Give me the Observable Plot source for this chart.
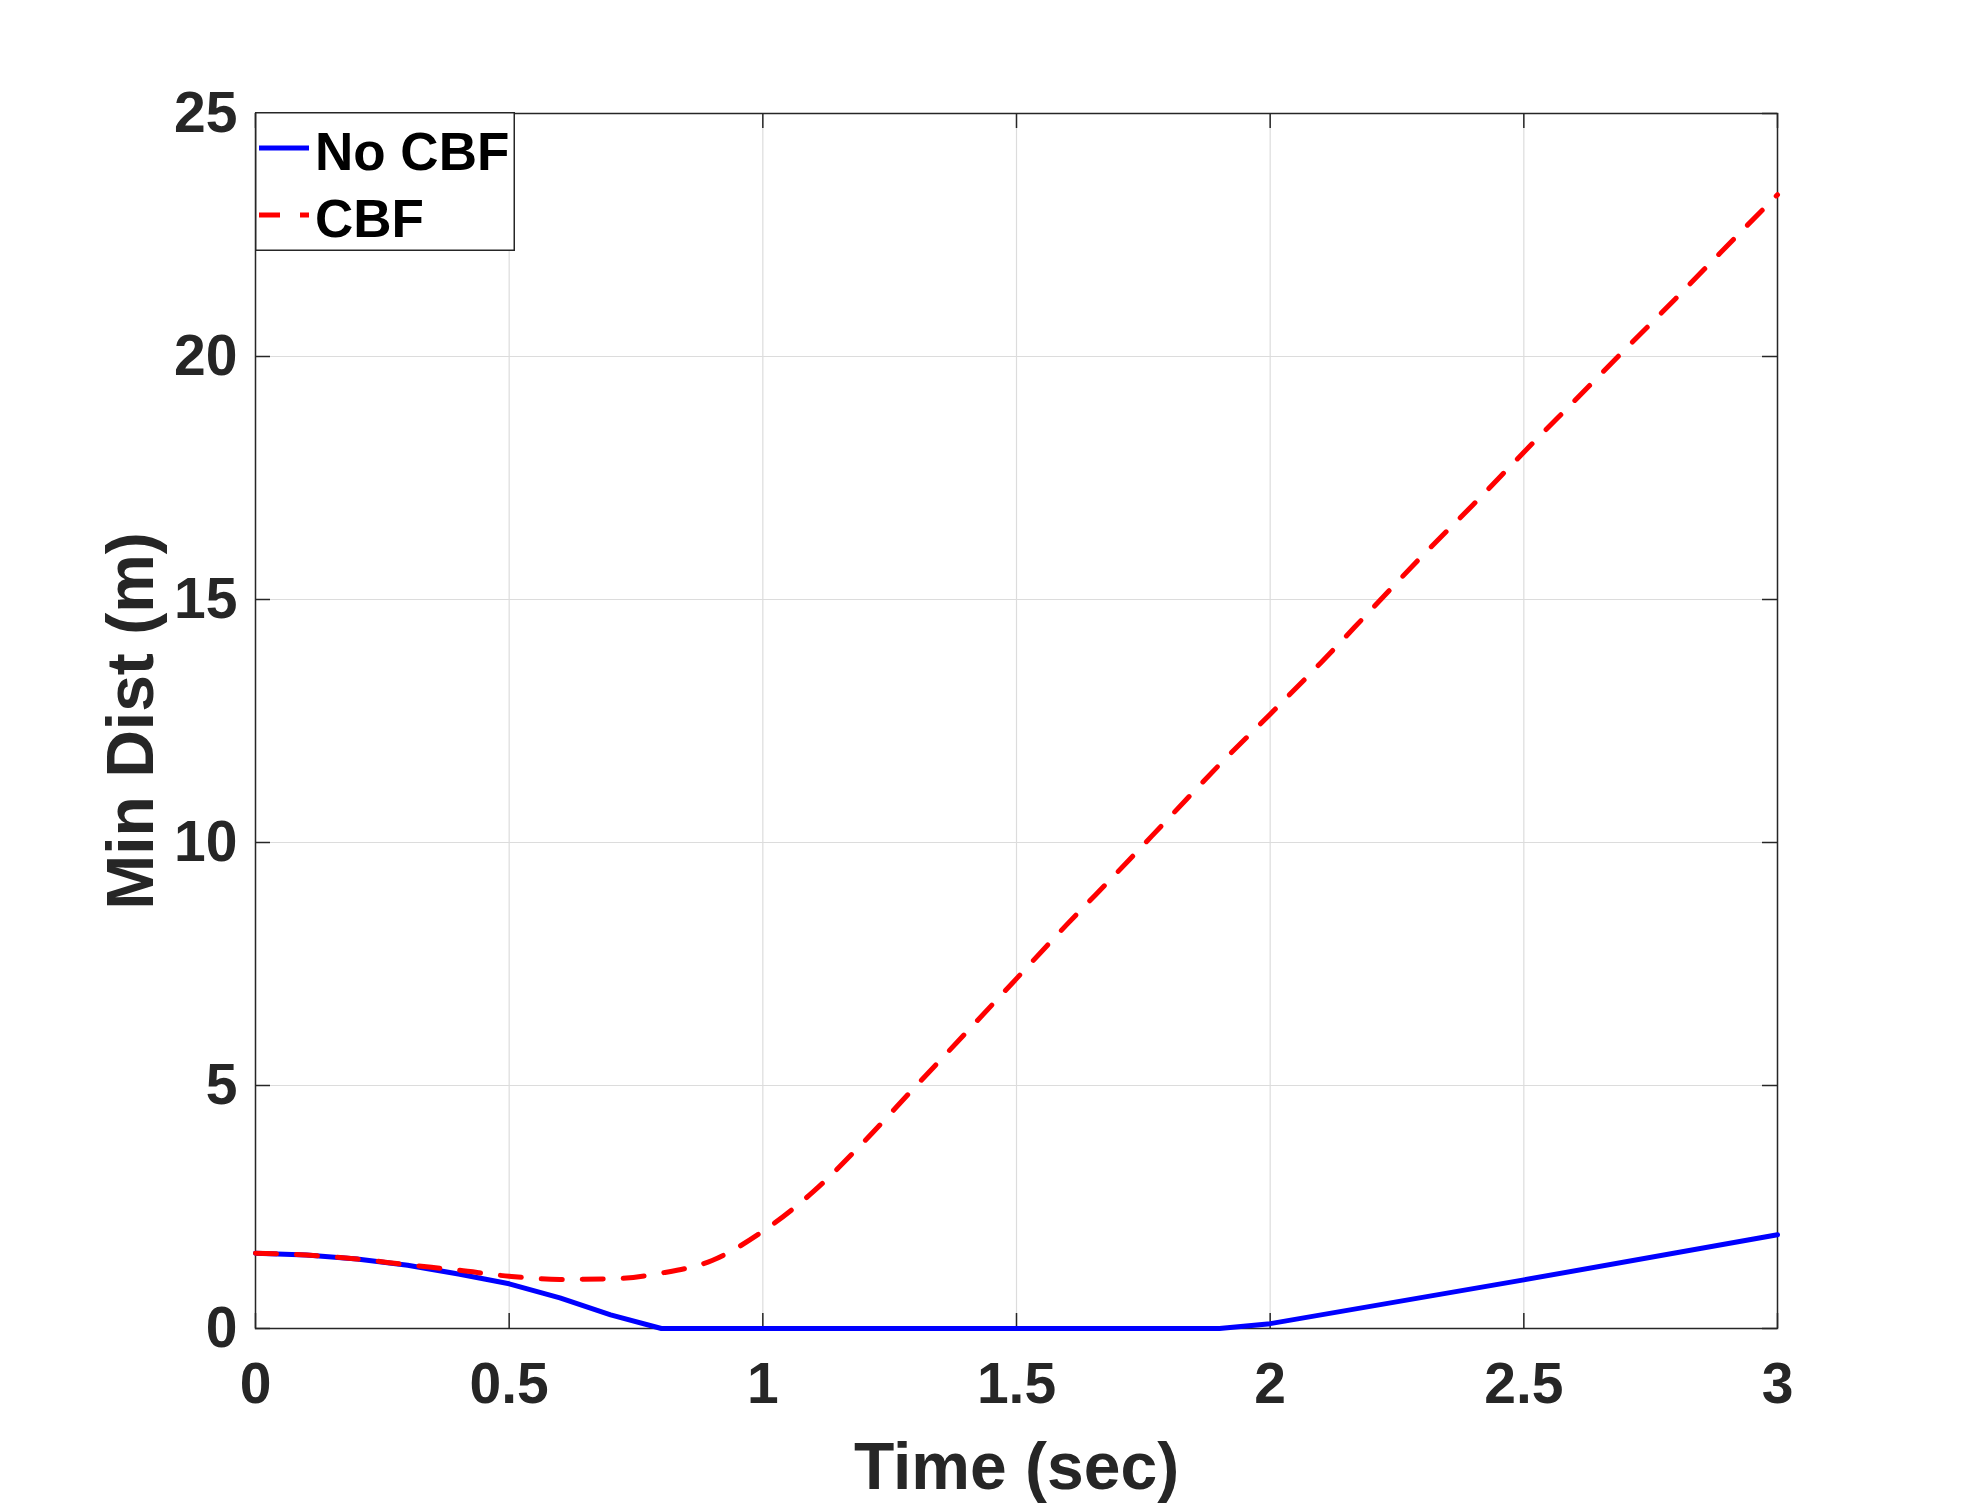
<!DOCTYPE html>
<html>
<head>
<meta charset="utf-8">
<script src="https://cdn.jsdelivr.net/npm/d3@7"></script>
<script src="https://cdn.jsdelivr.net/npm/@observablehq/plot@0.6"></script>
<style>
  html, body { margin: 0; padding: 0; background: #ffffff; }
  #wrap { position: relative; width: 1965px; height: 1503px; }
  #legend { position: absolute; left: 255px; top: 112px; }
</style>
</head>
<body>
<div id="wrap"></div>
<script>
// ---- data ----
const seriesNames = ["No CBF", "CBF"];
const seriesColors = ["#0000ff", "#ff0000"];
const seriesDash = [null, "21,20"];

const timeNoCBF = [0, 0.1, 0.2, 0.3, 0.4, 0.5, 0.6, 0.7, 0.8, 1.9, 2.0, 2.5, 3.0];
const distNoCBF = [1.55, 1.51, 1.43, 1.30, 1.12, 0.92, 0.63, 0.28, 0, 0, 0.10, 1.00, 1.93];

const timeCBF = [0, 0.1, 0.2, 0.3, 0.4, 0.5, 0.6, 0.7, 0.8, 0.9, 1.0, 1.1, 1.2, 1.3, 1.4, 1.5,
                 1.6, 1.7, 1.8, 1.9, 2.0, 2.1, 2.2, 2.3, 2.4, 2.5, 2.6, 2.7, 2.8, 2.9, 3.0];
const distCBF = [1.55, 1.51, 1.43, 1.31, 1.20, 1.075, 1.01, 1.02, 1.14, 1.40, 2.00, 2.82, 3.85, 4.97, 6.08, 7.20,
                 8.32, 9.40, 10.50, 11.60, 12.64, 13.70, 14.80, 15.90, 16.95, 18.03, 19.09, 20.15, 21.20, 22.27, 23.33];

const xTicks = [0, 0.5, 1, 1.5, 2, 2.5, 3];
const yTicks = [0, 5, 10, 15, 20, 25];
const xLabel = "Time (sec)";
const yLabel = "Min Dist (m)";

const noCBF = timeNoCBF.map((t, i) => ({t, d: distNoCBF[i]}));
const cbf = timeCBF.map((t, i) => ({t, d: distCBF[i]}));

// ---- layout ----
const W = 1965, H = 1503;
const mL = 255, mR = 188, mT = 113, mB = 175;
const fw = W - mL - mR, fh = H - mT - mB;
const tickLen = 15;
const axisColor = "#262626";
const font = "'Liberation Sans', Arial, Helvetica, sans-serif";

const plot = Plot.plot({
  width: W,
  height: H,
  marginLeft: mL, marginRight: mR, marginTop: mT, marginBottom: mB,
  style: { fontFamily: font, background: "#ffffff", color: axisColor, overflow: "visible" },
  x: { domain: [0, 3] },
  y: { domain: [0, 25] },
  marks: [
    Plot.gridX(xTicks, { stroke: "#dcdcdc", strokeOpacity: 1, strokeWidth: 1.2 }),
    Plot.gridY(yTicks, { stroke: "#dcdcdc", strokeOpacity: 1, strokeWidth: 1.2 }),
    Plot.frame({ stroke: axisColor, strokeWidth: 1.5 }),
    // inward ticks on all four sides
    Plot.tickX(xTicks, { x: d => d, stroke: axisColor, strokeWidth: 1.5, insetTop: fh - tickLen }),
    Plot.tickX(xTicks, { x: d => d, stroke: axisColor, strokeWidth: 1.5, insetBottom: fh - tickLen }),
    Plot.tickY(yTicks, { y: d => d, stroke: axisColor, strokeWidth: 1.5, insetRight: fw - tickLen }),
    Plot.tickY(yTicks, { y: d => d, stroke: axisColor, strokeWidth: 1.5, insetLeft: fw - tickLen }),
    Plot.axisX({ anchor: "bottom", ticks: xTicks, tickSize: 0, tickPadding: 34, fontSize: 57,
                 fontWeight: "bold", fill: axisColor, label: null, tickFormat: d => String(d) }),
    Plot.axisY({ anchor: "left", ticks: yTicks, tickSize: 0, tickPadding: 18, fontSize: 57,
                 fontWeight: "bold", fill: axisColor, label: null, tickFormat: d => String(d) }),
    Plot.line(noCBF, { x: "t", y: "d", stroke: seriesColors[0], strokeWidth: 5 }),
    Plot.line(cbf, { x: "t", y: "d", stroke: seriesColors[1], strokeWidth: 5,
                     strokeDasharray: seriesDash[1], curve: "monotone-x" }),
    Plot.text([xLabel], { frameAnchor: "bottom", dy: 160, lineAnchor: "bottom", fontSize: 66,
                          fontWeight: "bold", fill: axisColor, textAnchor: "middle" }),
    Plot.text([yLabel], { frameAnchor: "left", dx: -103, rotate: -90, lineAnchor: "bottom", fontSize: 66,
                          fontWeight: "bold", fill: axisColor, textAnchor: "middle" })
  ]
});

const wrap = document.getElementById("wrap");
wrap.appendChild(plot);

// ---- legend (inside axes, top-left) ----
const lw = 260, lh = 139;
const leg = d3.create("svg").attr("id", "legend").attr("width", lw).attr("height", lh)
  .style("font-family", font);
leg.append("rect").attr("x", 0.75).attr("y", 0.75).attr("width", lw - 1.5).attr("height", lh - 1.5)
  .attr("fill", "#ffffff").attr("stroke", axisColor).attr("stroke-width", 1.5);
const rowY = [36, 103];
const baseY = [58, 125];
seriesNames.forEach((name, i) => {
  const ln = leg.append("line").attr("x1", 4).attr("x2", 54).attr("y1", rowY[i]).attr("y2", rowY[i])
    .attr("stroke", seriesColors[i]).attr("stroke-width", 5);
  if (seriesDash[i]) ln.attr("stroke-dasharray", seriesDash[i]);
  leg.append("text").attr("x", 60).attr("y", baseY[i]).attr("font-size", 53).attr("font-weight", "bold")
    .attr("fill", "#000000").text(name);
});
wrap.appendChild(leg.node());
</script>
</body>
</html>
